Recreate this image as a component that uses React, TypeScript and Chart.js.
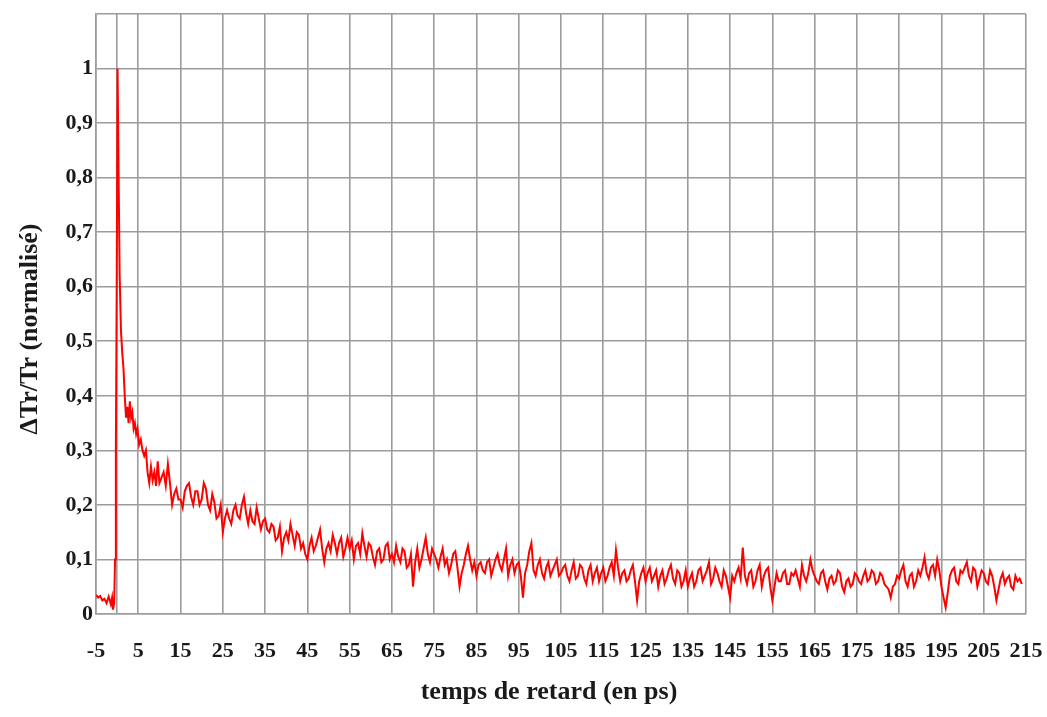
import React, { useEffect, useRef } from "react";
import { Chart, registerables } from "chart.js";

Chart.register(...registerables);

// Delay times (ps) and normalised ΔTr/Tr values
const riseTimes = [-5, -4.5, -4, -3.5, -3, -2.5, -2, -1.5, -1.2, -1, -0.7, -0.5, -0.3, -0.1, 0.1, 0.35, 0.6, 0.9, 1.2, 1.5, 1.8, 2.1, 2.4, 2.7, 3.0, 3.3, 3.6, 3.9, 4.2, 4.5, 4.8, 5.2, 5.6, 6.0, 6.4, 6.8, 7.2, 7.6, 8.0, 8.4, 8.8, 9.2, 9.6, 10, 10.5, 11, 11.5, 12, 12.5, 13, 13.5, 14, 14.5];
const riseValues = [0.035, 0.03, 0.033, 0.025, 0.028, 0.02, 0.032, 0.018, 0.03, 0.008, 0.02, 0.1, 0.3, 0.6, 1.0, 0.8, 0.62, 0.52, 0.48, 0.45, 0.4, 0.36, 0.38, 0.35, 0.39, 0.36, 0.37, 0.34, 0.35, 0.33, 0.34, 0.31, 0.32, 0.3, 0.29, 0.3, 0.26, 0.24, 0.27, 0.245, 0.26, 0.235, 0.28, 0.24, 0.25, 0.26, 0.235, 0.275, 0.24, 0.2, 0.22, 0.23, 0.21];

const tailTimes = [
  15, 16, 17, 18, 19, 20, 21, 22, 23, 24,
  25, 26, 27, 28, 29, 30, 31, 32, 33, 34,
  35, 36, 37, 38, 39, 40, 41, 42, 43, 44,
  45, 46, 47, 48, 49, 50, 51, 52, 53, 54,
  55, 56, 57, 58, 59, 60, 61, 62, 63, 64,
  65, 66, 67, 68, 69, 70, 71, 72, 73, 74,
  75, 76, 77, 78, 79, 80, 81, 82, 83, 84,
  85, 86, 87, 88, 89, 90, 91, 92, 93, 94,
  95, 96, 97, 98, 99, 100, 101, 102, 103, 104,
  105, 106, 107, 108, 109, 110, 111, 112, 113, 114,
  115, 116, 117, 118, 119, 120, 121, 122, 123, 124,
  125, 126, 127, 128, 129, 130, 131, 132, 133, 134,
  135, 136, 137, 138, 139, 140, 141, 142, 143, 144,
  145, 146, 147, 148, 149, 150, 151, 152, 153, 154,
  155, 156, 157, 158, 159, 160, 161, 162, 163, 164,
  165, 166, 167, 168, 169, 170, 171, 172, 173, 174,
  175, 176, 177, 178, 179, 180, 181, 182, 183, 184,
  185, 186, 187, 188, 189, 190, 191, 192, 193, 194,
  195, 196, 197, 198, 199, 200, 201, 202, 203, 204,
  205, 206, 207, 208, 209, 210, 211, 212, 213, 214,
];
const tailValues = [
  0.21, 0.225, 0.24, 0.2, 0.225, 0.21, 0.23, 0.19, 0.205, 0.18,
  0.15, 0.19, 0.165, 0.2, 0.175, 0.215, 0.165, 0.17, 0.195, 0.155,
  0.175, 0.15, 0.16, 0.14, 0.115, 0.15, 0.165, 0.125, 0.145, 0.13,
  0.1, 0.14, 0.125, 0.155, 0.095, 0.13, 0.145, 0.11, 0.14, 0.12,
  0.12, 0.1, 0.13, 0.148, 0.105, 0.125, 0.09, 0.12, 0.1, 0.13,
  0.11, 0.125, 0.095, 0.115, 0.09, 0.05, 0.12, 0.1, 0.14, 0.095,
  0.11, 0.085, 0.12, 0.1, 0.09, 0.115, 0.05, 0.09, 0.125, 0.08,
  0.07, 0.095, 0.075, 0.1, 0.085, 0.11, 0.08, 0.12, 0.09, 0.075,
  0.095, 0.03, 0.09, 0.13, 0.07, 0.1, 0.065, 0.095, 0.08, 0.1,
  0.075, 0.09, 0.06, 0.095, 0.07, 0.085, 0.055, 0.09, 0.075, 0.06,
  0.085, 0.07, 0.095, 0.117, 0.06, 0.08, 0.065, 0.09, 0.025, 0.075,
  0.06, 0.085, 0.07, 0.05, 0.08, 0.065, 0.09, 0.055, 0.075, 0.06,
  0.05, 0.075, 0.06, 0.085, 0.07, 0.095, 0.065, 0.075, 0.05, 0.07,
  0.03, 0.06, 0.085, 0.122, 0.055, 0.08, 0.06, 0.09, 0.07, 0.085,
  0.025, 0.075, 0.06, 0.08, 0.055, 0.07, 0.065, 0.09, 0.06, 0.1,
  0.07, 0.055, 0.08, 0.045, 0.07, 0.06, 0.075, 0.04, 0.065, 0.055,
  0.07, 0.055, 0.08, 0.065, 0.075, 0.06, 0.07, 0.05, 0.03, 0.055,
  0.065, 0.09, 0.05, 0.075, 0.06, 0.07, 0.104, 0.065, 0.09, 0.1,
  0.05, 0.012, 0.07, 0.085, 0.055, 0.075, 0.095, 0.06, 0.08, 0.065,
  0.075, 0.055, 0.07, 0.025, 0.065, 0.055, 0.07, 0.045, 0.06, 0.055,
];

const tailHalfTimes = [
  15.5, 16.5, 17.5, 18.5, 19.5, 20.5, 21.5, 22.5, 23.5, 24.5,
  25.5, 26.5, 27.5, 28.5, 29.5, 30.5, 31.5, 32.5, 33.5, 34.5,
  35.5, 36.5, 37.5, 38.5, 39.5, 40.5, 41.5, 42.5, 43.5, 44.5,
  45.5, 46.5, 47.5, 48.5, 49.5, 50.5, 51.5, 52.5, 53.5, 54.5,
  55.5, 56.5, 57.5, 58.5, 59.5, 60.5, 61.5, 62.5, 63.5, 64.5,
  65.5, 66.5, 67.5, 68.5, 69.5, 70.5, 71.5, 72.5, 73.5, 74.5,
  75.5, 76.5, 77.5, 78.5, 79.5, 80.5, 81.5, 82.5, 83.5, 84.5,
  85.5, 86.5, 87.5, 88.5, 89.5, 90.5, 91.5, 92.5, 93.5, 94.5,
  95.5, 96.5, 97.5, 98.5, 99.5, 100.5, 101.5, 102.5, 103.5, 104.5,
  105.5, 106.5, 107.5, 108.5, 109.5, 110.5, 111.5, 112.5, 113.5, 114.5,
  115.5, 116.5, 117.5, 118.5, 119.5, 120.5, 121.5, 122.5, 123.5, 124.5,
  125.5, 126.5, 127.5, 128.5, 129.5, 130.5, 131.5, 132.5, 133.5, 134.5,
  135.5, 136.5, 137.5, 138.5, 139.5, 140.5, 141.5, 142.5, 143.5, 144.5,
  145.5, 146.5, 147.5, 148.5, 149.5, 150.5, 151.5, 152.5, 153.5, 154.5,
  155.5, 156.5, 157.5, 158.5, 159.5, 160.5, 161.5, 162.5, 163.5, 164.5,
  165.5, 166.5, 167.5, 168.5, 169.5, 170.5, 171.5, 172.5, 173.5, 174.5,
  175.5, 176.5, 177.5, 178.5, 179.5, 180.5, 181.5, 182.5, 183.5, 184.5,
  185.5, 186.5, 187.5, 188.5, 189.5, 190.5, 191.5, 192.5, 193.5, 194.5,
  195.5, 196.5, 197.5, 198.5, 199.5, 200.5, 201.5, 202.5, 203.5, 204.5,
  205.5, 206.5, 207.5, 208.5, 209.5, 210.5, 211.5, 212.5, 213.5,
];
const tailHalfValues = [
  0.195, 0.235, 0.215, 0.225, 0.2, 0.24, 0.2, 0.22, 0.175, 0.2,
  0.175, 0.175, 0.19, 0.18, 0.2, 0.185, 0.19, 0.165, 0.175, 0.17,
  0.155, 0.165, 0.135, 0.16, 0.14, 0.135, 0.145, 0.15, 0.12, 0.11,
  0.125, 0.115, 0.14, 0.12, 0.12, 0.115, 0.13, 0.13, 0.105, 0.14,
  0.135, 0.125, 0.11, 0.125, 0.13, 0.105, 0.115, 0.095, 0.125, 0.1,
  0.095, 0.105, 0.12, 0.085, 0.11, 0.095, 0.085, 0.12, 0.11, 0.12,
  0.1, 0.105, 0.09, 0.075, 0.11, 0.085, 0.075, 0.11, 0.1, 0.095,
  0.09, 0.08, 0.095, 0.07, 0.1, 0.09, 0.1, 0.07, 0.1, 0.09,
  0.07, 0.075, 0.115, 0.08, 0.09, 0.075, 0.085, 0.07, 0.09, 0.07,
  0.085, 0.07, 0.08, 0.065, 0.09, 0.065, 0.08, 0.06, 0.085, 0.075,
  0.06, 0.085, 0.07, 0.085, 0.075, 0.06, 0.08, 0.06, 0.06, 0.085,
  0.075, 0.06, 0.08, 0.07, 0.055, 0.08, 0.065, 0.08, 0.05, 0.08,
  0.065, 0.05, 0.08, 0.06, 0.08, 0.055, 0.085, 0.06, 0.08, 0.05,
  0.07, 0.075, 0.065, 0.07, 0.075, 0.05, 0.08, 0.05, 0.08, 0.05,
  0.05, 0.06, 0.075, 0.055, 0.075, 0.08, 0.05, 0.07, 0.075, 0.08,
  0.06, 0.075, 0.06, 0.065, 0.055, 0.08, 0.05, 0.06, 0.05, 0.075,
  0.06, 0.07, 0.06, 0.08, 0.055, 0.075, 0.055, 0.045, 0.05, 0.07,
  0.08, 0.06, 0.07, 0.05, 0.08, 0.085, 0.075, 0.085, 0.07, 0.08,
  0.03, 0.04, 0.08, 0.06, 0.08, 0.085, 0.07, 0.085, 0.05, 0.08,
  0.06, 0.08, 0.05, 0.045, 0.075, 0.065, 0.05, 0.07, 0.065,
];

const xTickValues = [-5, 0, 5, 15, 25, 35, 45, 55, 65, 75, 85, 95, 105, 115, 125, 135, 145, 155, 165, 175, 185, 195, 205, 215];
const yTickValues = [0, 0.1, 0.2, 0.3, 0.4, 0.5, 0.6, 0.7, 0.8, 0.9, 1, 1.1];
const yTickLabels = ["0", "0,1", "0,2", "0,3", "0,4", "0,5", "0,6", "0,7", "0,8", "0,9", "1", ""];

const xTitle = "temps de retard (en ps)";
const yTitle = "ΔTr/Tr (normalisé)";

const FONT = '"Liberation Serif", "DejaVu Serif", serif';

export default function App() {
  const canvasRef = useRef<HTMLCanvasElement | null>(null);

  useEffect(() => {
    const canvas = canvasRef.current;
    if (!canvas) return;
    const points = [
      ...riseTimes.map((t, i) => ({ x: t, y: riseValues[i] })),
      ...tailTimes.map((t, i) => ({ x: t, y: tailValues[i] })),
      ...tailHalfTimes.map((t, i) => ({ x: t, y: tailHalfValues[i] })),
    ].sort((a, b) => a.x - b.x);

    const titlePlugin = {
      id: "titles",
      afterDraw(chart: any) {
        const ctx = chart.ctx;
        ctx.save();
        ctx.fillStyle = "#1a1a1a";
        ctx.font = `bold 26px ${FONT}`;
        ctx.textAlign = "center";
        ctx.textBaseline = "middle";
        ctx.fillText(xTitle, 549, 692);
        ctx.translate(30, 329);
        ctx.rotate(-Math.PI / 2);
        ctx.fillText(yTitle, 0, 0);
        ctx.restore();
      },
    };

    const chart = new Chart(canvas, {
      type: "line",
      data: {
        datasets: [
          {
            data: points,
            borderColor: "#ff0000",
            borderWidth: 2,
            pointRadius: 0,
            tension: 0,
            fill: false,
          },
        ],
      },
      options: {
        animation: false,
        responsive: false,
        maintainAspectRatio: false,
        parsing: false as any,
        layout: { padding: { left: 0, top: 14, right: 21, bottom: 0 } },
        plugins: { legend: { display: false }, tooltip: { enabled: false } },
        scales: {
          x: {
            type: "linear",
            min: -5,
            max: 215,
            afterBuildTicks: (scale: any) => {
              scale.ticks = xTickValues.map((v) => ({ value: v }));
            },
            afterFit: (scale: any) => {
              scale.height = 103;
              scale.paddingLeft = 0;
              scale.paddingRight = 0;
            },
            grid: { color: "#9c9c9c", lineWidth: 1.6, drawTicks: false },
            border: { color: "#9c9c9c", width: 1.6 },
            ticks: {
              autoSkip: false,
              maxRotation: 0,
              padding: 24,
              color: "#1a1a1a",
              font: { family: FONT, size: 22, weight: "bold" },
              callback: (v: any) => (v === 0 ? "" : String(v)),
            },
          },
          y: {
            type: "linear",
            min: 0,
            max: 1.1,
            afterBuildTicks: (scale: any) => {
              scale.ticks = yTickValues.map((v) => ({ value: v }));
            },
            afterFit: (scale: any) => {
              scale.width = 96;
              scale.paddingTop = 0;
              scale.paddingBottom = 0;
            },
            grid: { color: "#9c9c9c", lineWidth: 1.6, drawTicks: false },
            border: { color: "#9c9c9c", width: 1.6 },
            ticks: {
              autoSkip: false,
              padding: 3,
              color: "#1a1a1a",
              font: { family: FONT, size: 22, weight: "bold" },
              callback: (v: any, i: number) => yTickLabels[i] ?? "",
            },
          },
        },
      },
      plugins: [titlePlugin],
    });
    return () => chart.destroy();
  }, []);

  return (
    <div style={{ position: "fixed", left: 0, top: 0, width: 1047, height: 717, background: "#ffffff" }}>
      <canvas ref={canvasRef} width={1047} height={717} style={{ width: 1047, height: 717, display: "block" }} />
    </div>
  );
}
